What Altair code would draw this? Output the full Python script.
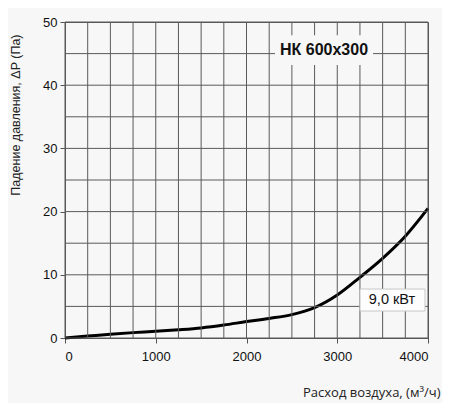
import altair as alt
import pandas as pd

flow = [0, 250, 500, 750, 1000, 1250, 1500, 1750, 2000, 2250, 2500, 2750, 3000, 3250, 3500, 3750, 4000]
dp = [0.0, 0.3, 0.6, 0.85, 1.05, 1.3, 1.6, 2.05, 2.6, 3.1, 3.7, 4.8, 6.8, 9.6, 12.6, 16.1, 20.5]

x_ticks = [0, 1000, 2000, 3000, 4000]
y_ticks = [0, 10, 20, 30, 40, 50]
x_grid = list(range(0, 4001, 250))
y_grid = list(range(0, 51, 5))

title_text = "НК 600x300"
power_text = "9,0 кВт"

BG = "#f7f7f7"

df = pd.DataFrame({"flow": flow, "dp": dp})

xs = alt.Scale(domain=[0, 4000], nice=False)
ys = alt.Scale(domain=[0, 50], nice=False)

x_axis = alt.Axis(values=x_ticks, grid=False, title="Расход воздуха, (м³/ч)", format="d",
                  labelFont="Liberation Sans", labelFontSize=13, labelColor="#111",
                  tickSize=5, tickColor="#555", domainColor="#555", labelPadding=7,
                  titleFont="Open Sans", titleFontSize=13, titleFontWeight="normal",
                  titleColor="#222", titleAnchor="end", titleAlign="right",
                  titleX=375, titleY=61, titleBaseline="bottom")
y_axis = alt.Axis(values=y_ticks, grid=False, title="Падение давления, ΔP (Па)", format="d",
                  labelFont="Liberation Sans", labelFontSize=13, labelColor="#111",
                  tickSize=5, tickColor="#555", domainColor="#555", labelPadding=3,
                  titleFont="Liberation Sans", titleFontSize=12.5, titleFontWeight="normal",
                  titleColor="#222", titleAngle=-90, titleAlign="right",
                  titleX=-50, titleY=12, titleBaseline="middle")

X = alt.X("flow:Q", scale=xs, axis=x_axis)
Y = alt.Y("dp:Q", scale=ys, axis=y_axis)

curve = alt.Chart(df).mark_line(color="#000", strokeWidth=3, interpolate="monotone").encode(x=X, y=Y)

vgrid = alt.Chart(pd.DataFrame({"flow": x_grid})).mark_rule(color="#5a5a5a", strokeWidth=1).encode(x=X)
hgrid = alt.Chart(pd.DataFrame({"dp": y_grid})).mark_rule(color="#5a5a5a", strokeWidth=1).encode(y=Y)

title_bg = alt.Chart(pd.DataFrame({"flow": [2314], "flow2": [3394], "dp": [43.2], "dp2": [47.9]})).mark_rect(
    color=BG).encode(x=X, x2="flow2:Q", y=Y, y2="dp2:Q")
title_t = alt.Chart(pd.DataFrame({"flow": [2854], "dp": [45.6], "t": [title_text]})).mark_text(
    font="Liberation Sans", fontSize=16, fontWeight="bold", color="#111", baseline="middle", align="center"
).encode(x=X, y=Y, text="t:N")

box = alt.Chart(pd.DataFrame({"flow": [3251], "flow2": [3967], "dp": [4.27], "dp2": [7.75]})).mark_rect(
    fill="#fdfdfd", stroke="#c8c8c8", strokeWidth=1).encode(x=X, x2="flow2:Q", y=Y, y2="dp2:Q")
box_t = alt.Chart(pd.DataFrame({"flow": [3603], "dp": [6.0], "t": [power_text]})).mark_text(
    font="Liberation Sans", fontSize=14.5, color="#111", baseline="middle", align="center"
).encode(x=X, y=Y, text="t:N")

chart = alt.layer(curve, vgrid, hgrid, title_bg, title_t, box, box_t).properties(
    width=363, height=316, background=BG,
    padding={"left": 57, "top": 14, "right": 14, "bottom": 65},
    autosize=alt.AutoSizeParams(type="none"),
).configure_view(stroke="#555", strokeWidth=1)

chart.save("out.html", embed_options={"renderer": "svg", "actions": False})
